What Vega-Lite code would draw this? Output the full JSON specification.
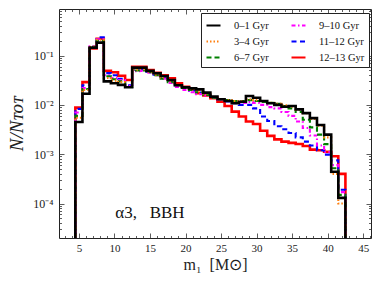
{
  "$schema": "https://vega.github.io/schema/vega-lite/v6.json",
  "autosize": {"type": "none"},
  "width": 312,
  "height": 229,
  "padding": {"left": 59, "top": 9, "right": 11, "bottom": 50},
  "background": "white",
  "config": {
    "font": "Liberation Serif",
    "view": {"stroke": "#222222", "strokeWidth": 1},
    "axis": {"domain": false, "grid": false, "labelFont": "Liberation Serif", "labelFontSize": 11, "labelColor": "#222222", "titleFont": "Liberation Serif", "titleColor": "#222222", "titleFontWeight": "normal", "tickColor": "#333333", "tickWidth": 0.8}
  },
  "data": {"values": [
    {"s":"12–13 Gyr","x":4.5,"v":1e-6,"o":0},{"s":"12–13 Gyr","x":4.5,"v":0.0088,"o":1},{"s":"12–13 Gyr","x":5.5,"v":0.029,"o":2},{"s":"12–13 Gyr","x":6.5,"v":0.14,"o":3},{"s":"12–13 Gyr","x":7.5,"v":0.219,"o":4},{"s":"12–13 Gyr","x":8.5,"v":0.049,"o":5},{"s":"12–13 Gyr","x":9.5,"v":0.046,"o":6},{"s":"12–13 Gyr","x":10.5,"v":0.039,"o":7},{"s":"12–13 Gyr","x":11.5,"v":0.032,"o":8},{"s":"12–13 Gyr","x":12.5,"v":0.059,"o":9},{"s":"12–13 Gyr","x":13.5,"v":0.059,"o":10},{"s":"12–13 Gyr","x":14.5,"v":0.051,"o":11},{"s":"12–13 Gyr","x":15.5,"v":0.045,"o":12},{"s":"12–13 Gyr","x":16.5,"v":0.040,"o":13},{"s":"12–13 Gyr","x":17.5,"v":0.0346,"o":14},{"s":"12–13 Gyr","x":18.5,"v":0.0274,"o":15},{"s":"12–13 Gyr","x":19.5,"v":0.0234,"o":16},{"s":"12–13 Gyr","x":20.5,"v":0.0206,"o":17},{"s":"12–13 Gyr","x":21.5,"v":0.0172,"o":18},{"s":"12–13 Gyr","x":22.5,"v":0.0155,"o":19},{"s":"12–13 Gyr","x":23.5,"v":0.0136,"o":20},{"s":"12–13 Gyr","x":24.5,"v":0.0116,"o":21},{"s":"12–13 Gyr","x":25.5,"v":0.0095,"o":22},{"s":"12–13 Gyr","x":26.5,"v":0.0073,"o":23},{"s":"12–13 Gyr","x":27.5,"v":0.0058,"o":24},{"s":"12–13 Gyr","x":28.5,"v":0.0046,"o":25},{"s":"12–13 Gyr","x":29.5,"v":0.0041,"o":26},{"s":"12–13 Gyr","x":30.5,"v":0.0030,"o":27},{"s":"12–13 Gyr","x":31.5,"v":0.00235,"o":28},{"s":"12–13 Gyr","x":32.5,"v":0.0020,"o":29},{"s":"12–13 Gyr","x":33.5,"v":0.0018,"o":30},{"s":"12–13 Gyr","x":34.5,"v":0.0017,"o":31},{"s":"12–13 Gyr","x":35.5,"v":0.00161,"o":32},{"s":"12–13 Gyr","x":36.5,"v":0.00147,"o":33},{"s":"12–13 Gyr","x":37.5,"v":0.00124,"o":34},{"s":"12–13 Gyr","x":38.5,"v":0.0012,"o":35},{"s":"12–13 Gyr","x":39.5,"v":0.00112,"o":36},{"s":"12–13 Gyr","x":40.5,"v":0.00091,"o":37},{"s":"12–13 Gyr","x":41.5,"v":0.0004,"o":38},{"s":"12–13 Gyr","x":42.5,"v":1e-6,"o":39},
    {"s":"11–12 Gyr","x":4.5,"v":1e-6,"o":0},{"s":"11–12 Gyr","x":4.5,"v":0.0083,"o":1},{"s":"11–12 Gyr","x":5.5,"v":0.025,"o":2},{"s":"11–12 Gyr","x":6.5,"v":0.145,"o":3},{"s":"11–12 Gyr","x":7.5,"v":0.234,"o":4},{"s":"11–12 Gyr","x":8.5,"v":0.044,"o":5},{"s":"11–12 Gyr","x":9.5,"v":0.040,"o":6},{"s":"11–12 Gyr","x":10.5,"v":0.034,"o":7},{"s":"11–12 Gyr","x":11.5,"v":0.025,"o":8},{"s":"11–12 Gyr","x":12.5,"v":0.051,"o":9},{"s":"11–12 Gyr","x":13.5,"v":0.052,"o":10},{"s":"11–12 Gyr","x":14.5,"v":0.047,"o":11},{"s":"11–12 Gyr","x":15.5,"v":0.041,"o":12},{"s":"11–12 Gyr","x":16.5,"v":0.035,"o":13},{"s":"11–12 Gyr","x":17.5,"v":0.030,"o":14},{"s":"11–12 Gyr","x":18.5,"v":0.025,"o":15},{"s":"11–12 Gyr","x":19.5,"v":0.0225,"o":16},{"s":"11–12 Gyr","x":20.5,"v":0.0194,"o":17},{"s":"11–12 Gyr","x":21.5,"v":0.0177,"o":18},{"s":"11–12 Gyr","x":22.5,"v":0.0163,"o":19},{"s":"11–12 Gyr","x":23.5,"v":0.0142,"o":20},{"s":"11–12 Gyr","x":24.5,"v":0.013,"o":21},{"s":"11–12 Gyr","x":25.5,"v":0.0118,"o":22},{"s":"11–12 Gyr","x":26.5,"v":0.0108,"o":23},{"s":"11–12 Gyr","x":27.5,"v":0.0100,"o":24},{"s":"11–12 Gyr","x":28.5,"v":0.0100,"o":25},{"s":"11–12 Gyr","x":29.5,"v":0.0085,"o":26},{"s":"11–12 Gyr","x":30.5,"v":0.0058,"o":27},{"s":"11–12 Gyr","x":31.5,"v":0.0047,"o":28},{"s":"11–12 Gyr","x":32.5,"v":0.0037,"o":29},{"s":"11–12 Gyr","x":33.5,"v":0.0032,"o":30},{"s":"11–12 Gyr","x":34.5,"v":0.0027,"o":31},{"s":"11–12 Gyr","x":35.5,"v":0.0022,"o":32},{"s":"11–12 Gyr","x":36.5,"v":0.0018,"o":33},{"s":"11–12 Gyr","x":37.5,"v":0.0015,"o":34},{"s":"11–12 Gyr","x":38.5,"v":0.0012,"o":35},{"s":"11–12 Gyr","x":39.5,"v":0.00098,"o":36},{"s":"11–12 Gyr","x":40.5,"v":0.00075,"o":37},{"s":"11–12 Gyr","x":41.5,"v":0.00019,"o":38},{"s":"11–12 Gyr","x":42.5,"v":1e-6,"o":39},
    {"s":"9–10 Gyr","x":4.5,"v":1e-6,"o":0},{"s":"9–10 Gyr","x":4.5,"v":0.0070,"o":1},{"s":"9–10 Gyr","x":5.5,"v":0.022,"o":2},{"s":"9–10 Gyr","x":6.5,"v":0.155,"o":3},{"s":"9–10 Gyr","x":7.5,"v":0.215,"o":4},{"s":"9–10 Gyr","x":8.5,"v":0.040,"o":5},{"s":"9–10 Gyr","x":9.5,"v":0.035,"o":6},{"s":"9–10 Gyr","x":10.5,"v":0.032,"o":7},{"s":"9–10 Gyr","x":11.5,"v":0.024,"o":8},{"s":"9–10 Gyr","x":12.5,"v":0.048,"o":9},{"s":"9–10 Gyr","x":13.5,"v":0.049,"o":10},{"s":"9–10 Gyr","x":14.5,"v":0.045,"o":11},{"s":"9–10 Gyr","x":15.5,"v":0.040,"o":12},{"s":"9–10 Gyr","x":16.5,"v":0.034,"o":13},{"s":"9–10 Gyr","x":17.5,"v":0.028,"o":14},{"s":"9–10 Gyr","x":18.5,"v":0.023,"o":15},{"s":"9–10 Gyr","x":19.5,"v":0.020,"o":16},{"s":"9–10 Gyr","x":20.5,"v":0.018,"o":17},{"s":"9–10 Gyr","x":21.5,"v":0.0165,"o":18},{"s":"9–10 Gyr","x":22.5,"v":0.0155,"o":19},{"s":"9–10 Gyr","x":23.5,"v":0.014,"o":20},{"s":"9–10 Gyr","x":24.5,"v":0.0128,"o":21},{"s":"9–10 Gyr","x":25.5,"v":0.012,"o":22},{"s":"9–10 Gyr","x":26.5,"v":0.0112,"o":23},{"s":"9–10 Gyr","x":27.5,"v":0.0110,"o":24},{"s":"9–10 Gyr","x":28.5,"v":0.0115,"o":25},{"s":"9–10 Gyr","x":29.5,"v":0.0110,"o":26},{"s":"9–10 Gyr","x":30.5,"v":0.0100,"o":27},{"s":"9–10 Gyr","x":31.5,"v":0.0090,"o":28},{"s":"9–10 Gyr","x":32.5,"v":0.0085,"o":29},{"s":"9–10 Gyr","x":33.5,"v":0.0072,"o":30},{"s":"9–10 Gyr","x":34.5,"v":0.0060,"o":31},{"s":"9–10 Gyr","x":35.5,"v":0.0046,"o":32},{"s":"9–10 Gyr","x":36.5,"v":0.0034,"o":33},{"s":"9–10 Gyr","x":37.5,"v":0.0024,"o":34},{"s":"9–10 Gyr","x":38.5,"v":0.0015,"o":35},{"s":"9–10 Gyr","x":39.5,"v":0.0011,"o":36},{"s":"9–10 Gyr","x":40.5,"v":0.0006,"o":37},{"s":"9–10 Gyr","x":41.5,"v":0.00017,"o":38},{"s":"9–10 Gyr","x":42.5,"v":1e-6,"o":39},
    {"s":"6–7 Gyr","x":4.5,"v":1e-6,"o":0},{"s":"6–7 Gyr","x":4.5,"v":0.0060,"o":1},{"s":"6–7 Gyr","x":5.5,"v":0.021,"o":2},{"s":"6–7 Gyr","x":6.5,"v":0.15,"o":3},{"s":"6–7 Gyr","x":7.5,"v":0.20,"o":4},{"s":"6–7 Gyr","x":8.5,"v":0.038,"o":5},{"s":"6–7 Gyr","x":9.5,"v":0.033,"o":6},{"s":"6–7 Gyr","x":10.5,"v":0.030,"o":7},{"s":"6–7 Gyr","x":11.5,"v":0.023,"o":8},{"s":"6–7 Gyr","x":12.5,"v":0.050,"o":9},{"s":"6–7 Gyr","x":13.5,"v":0.050,"o":10},{"s":"6–7 Gyr","x":14.5,"v":0.046,"o":11},{"s":"6–7 Gyr","x":15.5,"v":0.040,"o":12},{"s":"6–7 Gyr","x":16.5,"v":0.034,"o":13},{"s":"6–7 Gyr","x":17.5,"v":0.029,"o":14},{"s":"6–7 Gyr","x":18.5,"v":0.025,"o":15},{"s":"6–7 Gyr","x":19.5,"v":0.022,"o":16},{"s":"6–7 Gyr","x":20.5,"v":0.020,"o":17},{"s":"6–7 Gyr","x":21.5,"v":0.018,"o":18},{"s":"6–7 Gyr","x":22.5,"v":0.016,"o":19},{"s":"6–7 Gyr","x":23.5,"v":0.014,"o":20},{"s":"6–7 Gyr","x":24.5,"v":0.013,"o":21},{"s":"6–7 Gyr","x":25.5,"v":0.0125,"o":22},{"s":"6–7 Gyr","x":26.5,"v":0.012,"o":23},{"s":"6–7 Gyr","x":27.5,"v":0.012,"o":24},{"s":"6–7 Gyr","x":28.5,"v":0.0125,"o":25},{"s":"6–7 Gyr","x":29.5,"v":0.012,"o":26},{"s":"6–7 Gyr","x":30.5,"v":0.0115,"o":27},{"s":"6–7 Gyr","x":31.5,"v":0.011,"o":28},{"s":"6–7 Gyr","x":32.5,"v":0.0105,"o":29},{"s":"6–7 Gyr","x":33.5,"v":0.0095,"o":30},{"s":"6–7 Gyr","x":34.5,"v":0.0085,"o":31},{"s":"6–7 Gyr","x":35.5,"v":0.0072,"o":32},{"s":"6–7 Gyr","x":36.5,"v":0.0050,"o":33},{"s":"6–7 Gyr","x":37.5,"v":0.0035,"o":34},{"s":"6–7 Gyr","x":38.5,"v":0.0025,"o":35},{"s":"6–7 Gyr","x":39.5,"v":0.0016,"o":36},{"s":"6–7 Gyr","x":40.5,"v":0.00052,"o":37},{"s":"6–7 Gyr","x":41.5,"v":0.00015,"o":38},{"s":"6–7 Gyr","x":42.5,"v":1e-6,"o":39},
    {"s":"3–4 Gyr","x":4.5,"v":1e-6,"o":0},{"s":"3–4 Gyr","x":4.5,"v":0.0055,"o":1},{"s":"3–4 Gyr","x":5.5,"v":0.020,"o":2},{"s":"3–4 Gyr","x":6.5,"v":0.15,"o":3},{"s":"3–4 Gyr","x":7.5,"v":0.21,"o":4},{"s":"3–4 Gyr","x":8.5,"v":0.035,"o":5},{"s":"3–4 Gyr","x":9.5,"v":0.031,"o":6},{"s":"3–4 Gyr","x":10.5,"v":0.029,"o":7},{"s":"3–4 Gyr","x":11.5,"v":0.023,"o":8},{"s":"3–4 Gyr","x":12.5,"v":0.052,"o":9},{"s":"3–4 Gyr","x":13.5,"v":0.053,"o":10},{"s":"3–4 Gyr","x":14.5,"v":0.047,"o":11},{"s":"3–4 Gyr","x":15.5,"v":0.041,"o":12},{"s":"3–4 Gyr","x":16.5,"v":0.036,"o":13},{"s":"3–4 Gyr","x":17.5,"v":0.030,"o":14},{"s":"3–4 Gyr","x":18.5,"v":0.025,"o":15},{"s":"3–4 Gyr","x":19.5,"v":0.023,"o":16},{"s":"3–4 Gyr","x":20.5,"v":0.021,"o":17},{"s":"3–4 Gyr","x":21.5,"v":0.019,"o":18},{"s":"3–4 Gyr","x":22.5,"v":0.017,"o":19},{"s":"3–4 Gyr","x":23.5,"v":0.0145,"o":20},{"s":"3–4 Gyr","x":24.5,"v":0.013,"o":21},{"s":"3–4 Gyr","x":25.5,"v":0.0125,"o":22},{"s":"3–4 Gyr","x":26.5,"v":0.012,"o":23},{"s":"3–4 Gyr","x":27.5,"v":0.012,"o":24},{"s":"3–4 Gyr","x":28.5,"v":0.013,"o":25},{"s":"3–4 Gyr","x":29.5,"v":0.0125,"o":26},{"s":"3–4 Gyr","x":30.5,"v":0.012,"o":27},{"s":"3–4 Gyr","x":31.5,"v":0.011,"o":28},{"s":"3–4 Gyr","x":32.5,"v":0.0105,"o":29},{"s":"3–4 Gyr","x":33.5,"v":0.0098,"o":30},{"s":"3–4 Gyr","x":34.5,"v":0.0092,"o":31},{"s":"3–4 Gyr","x":35.5,"v":0.0080,"o":32},{"s":"3–4 Gyr","x":36.5,"v":0.0068,"o":33},{"s":"3–4 Gyr","x":37.5,"v":0.0052,"o":34},{"s":"3–4 Gyr","x":38.5,"v":0.0038,"o":35},{"s":"3–4 Gyr","x":39.5,"v":0.0022,"o":36},{"s":"3–4 Gyr","x":40.5,"v":0.0004,"o":37},{"s":"3–4 Gyr","x":41.5,"v":0.0001,"o":38},{"s":"3–4 Gyr","x":42.5,"v":1e-6,"o":39},
    {"s":"0–1 Gyr","x":4.5,"v":1e-6,"o":0},{"s":"0–1 Gyr","x":4.5,"v":0.0045,"o":1},{"s":"0–1 Gyr","x":5.5,"v":0.0168,"o":2},{"s":"0–1 Gyr","x":6.5,"v":0.145,"o":3},{"s":"0–1 Gyr","x":7.5,"v":0.183,"o":4},{"s":"0–1 Gyr","x":8.5,"v":0.030,"o":5},{"s":"0–1 Gyr","x":9.5,"v":0.0275,"o":6},{"s":"0–1 Gyr","x":10.5,"v":0.0255,"o":7},{"s":"0–1 Gyr","x":11.5,"v":0.0228,"o":8},{"s":"0–1 Gyr","x":12.5,"v":0.057,"o":9},{"s":"0–1 Gyr","x":13.5,"v":0.057,"o":10},{"s":"0–1 Gyr","x":14.5,"v":0.049,"o":11},{"s":"0–1 Gyr","x":15.5,"v":0.0437,"o":12},{"s":"0–1 Gyr","x":16.5,"v":0.0385,"o":13},{"s":"0–1 Gyr","x":17.5,"v":0.032,"o":14},{"s":"0–1 Gyr","x":18.5,"v":0.025,"o":15},{"s":"0–1 Gyr","x":19.5,"v":0.0227,"o":16},{"s":"0–1 Gyr","x":20.5,"v":0.0216,"o":17},{"s":"0–1 Gyr","x":21.5,"v":0.0206,"o":18},{"s":"0–1 Gyr","x":22.5,"v":0.0177,"o":19},{"s":"0–1 Gyr","x":23.5,"v":0.0147,"o":20},{"s":"0–1 Gyr","x":24.5,"v":0.013,"o":21},{"s":"0–1 Gyr","x":25.5,"v":0.012,"o":22},{"s":"0–1 Gyr","x":26.5,"v":0.0108,"o":23},{"s":"0–1 Gyr","x":27.5,"v":0.0116,"o":24},{"s":"0–1 Gyr","x":28.5,"v":0.0151,"o":25},{"s":"0–1 Gyr","x":29.5,"v":0.014,"o":26},{"s":"0–1 Gyr","x":30.5,"v":0.012,"o":27},{"s":"0–1 Gyr","x":31.5,"v":0.0108,"o":28},{"s":"0–1 Gyr","x":32.5,"v":0.010,"o":29},{"s":"0–1 Gyr","x":33.5,"v":0.0092,"o":30},{"s":"0–1 Gyr","x":34.5,"v":0.0095,"o":31},{"s":"0–1 Gyr","x":35.5,"v":0.0081,"o":32},{"s":"0–1 Gyr","x":36.5,"v":0.0068,"o":33},{"s":"0–1 Gyr","x":37.5,"v":0.0054,"o":34},{"s":"0–1 Gyr","x":38.5,"v":0.0039,"o":35},{"s":"0–1 Gyr","x":39.5,"v":0.0025,"o":36},{"s":"0–1 Gyr","x":40.5,"v":0.00044,"o":37},{"s":"0–1 Gyr","x":41.5,"v":0.00013,"o":38},{"s":"0–1 Gyr","x":42.5,"v":1e-6,"o":39}
  ]},
  "resolve": {"axis": {"x": "independent", "y": "independent"}},
  "layer": [
    {
      "mark": {"type": "line", "interpolate": "step-after", "clip": true},
      "encoding": {
        "x": {"field": "x", "type": "quantitative", "scale": {"domain": [2.2, 46.1], "nice": false, "zero": false},
              "axis": {"orient": "bottom", "values": [5,10,15,20,25,30,35,40,45], "ticks": false, "labelPadding": 4, "labelFontSize": 11, "title": "m₁\u00a0\u00a0[M⊙]", "titleFontSize": 16, "titlePadding": 3}},
        "y": {"field": "v", "type": "quantitative", "scale": {"type": "log", "domain": [2e-5, 0.88], "nice": false},
              "axis": {"orient": "left", "values": [0.0001, 0.001, 0.01, 0.1], "ticks": false, "labelPadding": 6, "labelFontSize": 12,
                       "labelExpr": "'10⁻' + ['⁰','¹','²','³','⁴','⁵'][round(-log(datum.value)/LN10)]",
                       "title": "N/Nᴛᴏᴛ", "titleFontSize": 19, "titleFontStyle": "italic", "titlePadding": 6}},
        "order": {"field": "o", "type": "quantitative"},
        "color": {"field": "s", "type": "nominal",
                  "scale": {"domain": ["0–1 Gyr","3–4 Gyr","6–7 Gyr","9–10 Gyr","11–12 Gyr","12–13 Gyr"],
                            "range": ["#000000","#ff7f0e","#008000","#ff00ff","#0000ff","#ff0000"]},
                  "legend": {"orient": "none", "legendX": 142, "legendY": 4, "columns": 2, "title": null,
                             "symbolType": "stroke", "symbolSize": 196, "symbolStrokeWidth": 2.2,
                             "labelFont": "Liberation Serif", "labelFontSize": 10.5, "labelColor": "#111111", "labelOffset": 12,
                             "strokeColor": "#222222", "fillColor": "white", "padding": 4, "rowPadding": 2, "columnPadding": 18}},
        "strokeDash": {"field": "s", "type": "nominal",
                  "scale": {"domain": ["0–1 Gyr","3–4 Gyr","6–7 Gyr","9–10 Gyr","11–12 Gyr","12–13 Gyr"],
                            "range": [[1,0],[1.5,2],[5,3],[4,2.5,1.5,2.5],[5,3.5],[1,0]]}},
        "strokeWidth": {"condition": {"test": "datum.s === '0–1 Gyr' || datum.s === '12–13 Gyr'", "value": 2.6}, "value": 2.1}
      }
    },
    {
      "data": {"values": [{"x": 15, "v": 6.4e-5, "label": "α3,\u00a0\u00a0\u00a0BBH"}]},
      "mark": {"type": "text", "fontSize": 17, "font": "Liberation Serif", "color": "#111111"},
      "encoding": {
        "x": {"field": "x", "type": "quantitative", "scale": {"domain": [2.2, 46.1], "nice": false, "zero": false},
              "axis": {"orient": "top", "values": [5,10,15,20,25,30,35,40,45], "labels": false, "tickSize": -5, "title": null}},
        "y": {"field": "v", "type": "quantitative", "scale": {"type": "log", "domain": [2e-5, 0.88], "nice": false},
              "axis": {"orient": "right", "values": [0.0001, 0.001, 0.01, 0.1], "labels": false, "tickSize": -5, "title": null}},
        "text": {"field": "label"}
      }
    },
    {
      "mark": {"type": "point", "opacity": 0},
      "encoding": {
        "x": {"field": "x", "type": "quantitative", "scale": {"domain": [2.2, 46.1], "nice": false, "zero": false},
              "axis": {"orient": "bottom", "values": [5,10,15,20,25,30,35,40,45], "labels": false, "tickSize": -5, "title": null}},
        "y": {"field": "v", "type": "quantitative", "scale": {"type": "log", "domain": [2e-5, 0.88], "nice": false},
              "axis": {"orient": "left", "values": [0.0001, 0.001, 0.01, 0.1], "labels": false, "tickSize": -5, "title": null}}
      }
    },
    {
      "mark": {"type": "point", "opacity": 0},
      "encoding": {
        "x": {"field": "x", "type": "quantitative", "scale": {"domain": [2.2, 46.1], "nice": false, "zero": false},
              "axis": {"orient": "bottom", "values": [3,4,6,7,8,9,11,12,13,14,16,17,18,19,21,22,23,24,26,27,28,29,31,32,33,34,36,37,38,39,41,42,43,44,46], "labels": false, "tickSize": -2.5, "title": null}},
        "y": {"field": "v", "type": "quantitative", "scale": {"type": "log", "domain": [2e-5, 0.88], "nice": false},
              "axis": {"orient": "left", "values": [3e-5,4e-5,5e-5,6e-5,7e-5,8e-5,9e-5,2e-4,3e-4,4e-4,5e-4,6e-4,7e-4,8e-4,9e-4,2e-3,3e-3,4e-3,5e-3,6e-3,7e-3,8e-3,9e-3,0.02,0.03,0.04,0.05,0.06,0.07,0.08,0.09,0.2,0.3,0.4,0.5,0.6,0.7,0.8], "labels": false, "tickSize": -2.5, "title": null}}
      }
    },
    {
      "mark": {"type": "point", "opacity": 0},
      "encoding": {
        "x": {"field": "x", "type": "quantitative", "scale": {"domain": [2.2, 46.1], "nice": false, "zero": false},
              "axis": {"orient": "top", "values": [3,4,6,7,8,9,11,12,13,14,16,17,18,19,21,22,23,24,26,27,28,29,31,32,33,34,36,37,38,39,41,42,43,44,46], "labels": false, "tickSize": -2.5, "title": null}},
        "y": {"field": "v", "type": "quantitative", "scale": {"type": "log", "domain": [2e-5, 0.88], "nice": false},
              "axis": {"orient": "right", "values": [3e-5,4e-5,5e-5,6e-5,7e-5,8e-5,9e-5,2e-4,3e-4,4e-4,5e-4,6e-4,7e-4,8e-4,9e-4,2e-3,3e-3,4e-3,5e-3,6e-3,7e-3,8e-3,9e-3,0.02,0.03,0.04,0.05,0.06,0.07,0.08,0.09,0.2,0.3,0.4,0.5,0.6,0.7,0.8], "labels": false, "tickSize": -2.5, "title": null}}
      }
    }
  ]
}
